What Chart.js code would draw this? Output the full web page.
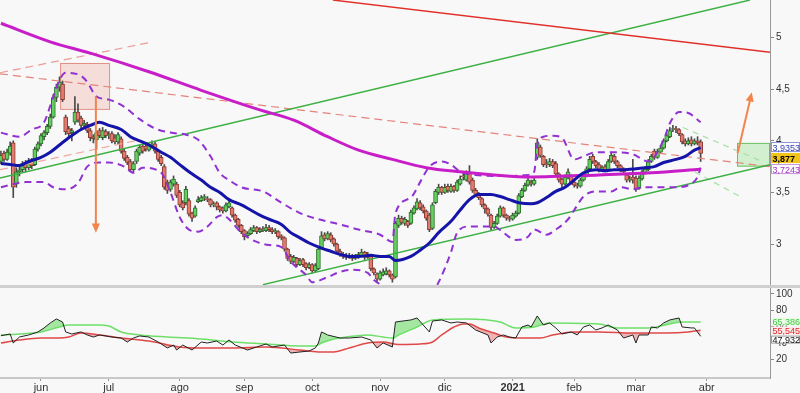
<!DOCTYPE html>
<html>
<head>
<meta charset="utf-8">
<script src="https://cdn.jsdelivr.net/npm/chart.js@4.4.0/dist/chart.umd.min.js"></script>
<style>
  html, body { margin: 0; padding: 0; background: #f8f8f8; }
  #wrap { position: relative; width: 800px; height: 393px; overflow: hidden; }
  #price { position: absolute; left: 0; top: 0; }
  #sep { position: absolute; left: 0; top: 285px; width: 800px; height: 3px; background: #cfcfcf; }
  #osc { position: absolute; left: 0; top: 288px; }
</style>
</head>
<body>
<div id="wrap">
  <canvas id="price" width="800" height="285"></canvas>
  <div id="sep"></div>
  <canvas id="osc" width="800" height="105"></canvas>
</div>
<script>
// trading day index of the first candle (0 = first session of june)
const firstDay = -13;

const opens = [
  3.80, 3.88, 3.82, 3.88, 3.98, 3.58, 3.70, 3.72, 3.79, 3.74,
  3.81, 3.77, 3.92, 3.97, 4.04, 4.08, 4.14, 4.23, 4.42, 4.52,
  4.55, 4.23, 4.12, 4.08, 4.18, 4.28, 4.22, 4.15, 4.16, 4.10,
  4.04, 4.01, 4.10, 4.03, 4.09, 4.05, 4.07, 4.03, 3.99, 4.02,
  3.90, 3.84, 3.80, 3.72, 3.80, 3.88, 3.95, 3.95, 3.91, 3.95,
  3.97, 3.90, 3.84, 3.75, 3.60, 3.53, 3.58, 3.58, 3.50, 3.40,
  3.40, 3.42, 3.30, 3.27, 3.41, 3.42, 3.45, 3.44, 3.43, 3.38,
  3.40, 3.36, 3.35, 3.32, 3.36, 3.35, 3.28, 3.24, 3.18, 3.13,
  3.08, 3.10, 3.13, 3.16, 3.12, 3.15, 3.13, 3.16, 3.14, 3.12,
  3.12, 3.08, 3.06, 2.95, 2.88, 2.83, 2.86, 2.80, 2.85, 2.81,
  2.77, 2.80, 2.74, 2.76, 2.96, 3.09, 3.05, 3.09, 3.05, 3.00,
  2.93, 2.90, 2.89, 2.87, 2.89, 2.86, 2.88, 2.89, 2.92, 2.87,
  2.88, 2.76, 2.71, 2.66, 2.70, 2.71, 2.74, 2.70, 2.68, 3.18,
  3.25, 3.20, 3.22, 3.20, 3.30, 3.34, 3.40, 3.36, 3.32, 3.28,
  3.15, 3.40, 3.50, 3.55, 3.50, 3.56, 3.51, 3.56, 3.52, 3.58,
  3.66, 3.62, 3.69, 3.62, 3.52, 3.48, 3.44, 3.38, 3.34, 3.28,
  3.16, 3.20, 3.27, 3.35, 3.28, 3.25, 3.24, 3.27, 3.30, 3.46,
  3.52, 3.57, 3.60, 3.58, 3.84, 3.94, 3.85, 3.78, 3.77, 3.80,
  3.78, 3.68, 3.63, 3.58, 3.64, 3.66, 3.60, 3.57, 3.56, 3.62,
  3.66, 3.73, 3.85, 3.80, 3.77, 3.72, 3.75, 3.72, 3.80, 3.85,
  3.80, 3.76, 3.72, 3.67, 3.62, 3.65, 3.64, 3.54, 3.63, 3.69,
  3.72, 3.80, 3.90, 3.84, 3.89, 3.93, 4.00, 4.04, 4.11, 4.12,
  4.11, 4.06, 4.00, 3.97, 4.01, 3.97, 4.00, 3.99
];
const highs = [
  3.90, 3.90, 3.92, 3.99, 4.00, 3.74, 3.76, 3.80, 3.81, 3.83,
  3.83, 3.94, 3.99, 4.07, 4.10, 4.16, 4.26, 4.45, 4.55, 4.62,
  4.58, 4.25, 4.14, 4.12, 4.43, 4.36, 4.24, 4.20, 4.18, 4.12,
  4.06, 4.10, 4.12, 4.13, 4.11, 4.09, 4.09, 4.06, 4.08, 4.04,
  3.92, 3.86, 3.82, 3.80, 3.92, 3.96, 3.97, 3.97, 3.98, 4.00,
  3.99, 3.91, 3.86, 3.77, 3.62, 3.62, 3.66, 3.60, 3.52, 3.42,
  3.56, 3.44, 3.31, 3.37, 3.46, 3.47, 3.48, 3.46, 3.44, 3.41,
  3.41, 3.37, 3.36, 3.40, 3.44, 3.36, 3.29, 3.25, 3.19, 3.14,
  3.12, 3.16, 3.18, 3.17, 3.16, 3.17, 3.19, 3.18, 3.16, 3.15,
  3.13, 3.09, 3.07, 2.96, 2.90, 2.89, 2.87, 2.86, 2.86, 2.82,
  2.82, 2.81, 2.81, 2.97, 3.12, 3.11, 3.12, 3.11, 3.06, 3.01,
  2.95, 2.92, 2.91, 2.91, 2.90, 2.90, 2.92, 2.95, 2.93, 2.92,
  2.90, 2.77, 2.72, 2.74, 2.76, 2.77, 2.75, 2.71, 3.22, 3.28,
  3.27, 3.26, 3.23, 3.33, 3.37, 3.44, 3.42, 3.38, 3.33, 3.30,
  3.40, 3.53, 3.58, 3.56, 3.58, 3.58, 3.58, 3.57, 3.62, 3.66,
  3.68, 3.71, 3.76, 3.64, 3.54, 3.50, 3.45, 3.39, 3.35, 3.29,
  3.22, 3.29, 3.37, 3.36, 3.29, 3.27, 3.30, 3.32, 3.49, 3.54,
  3.59, 3.64, 3.62, 3.64, 4.02, 3.96, 3.86, 3.82, 3.83, 3.82,
  3.80, 3.69, 3.64, 3.67, 3.73, 3.67, 3.61, 3.59, 3.64, 3.68,
  3.75, 3.85, 3.87, 3.81, 3.79, 3.76, 3.77, 3.82, 3.89, 3.87,
  3.81, 3.77, 3.74, 3.68, 3.66, 3.82, 3.66, 3.66, 3.72, 3.75,
  3.82, 3.87, 3.92, 3.92, 3.95, 4.02, 4.07, 4.13, 4.15, 4.14,
  4.12, 4.07, 4.02, 4.03, 4.04, 4.02, 4.04, 4.01
];
const lows = [
  3.78, 3.80, 3.81, 3.86, 3.45, 3.55, 3.66, 3.70, 3.70, 3.72,
  3.73, 3.76, 3.90, 3.95, 4.01, 4.06, 4.12, 4.22, 4.38, 4.48,
  4.38, 4.06, 4.04, 4.00, 4.16, 4.18, 4.12, 4.12, 4.08, 4.00,
  3.98, 3.92, 4.03, 4.01, 4.03, 4.02, 3.98, 3.97, 3.97, 3.88,
  3.81, 3.77, 3.70, 3.70, 3.78, 3.86, 3.88, 3.90, 3.90, 3.93,
  3.88, 3.80, 3.76, 3.53, 3.49, 3.51, 3.56, 3.45, 3.36, 3.33,
  3.38, 3.27, 3.22, 3.26, 3.40, 3.41, 3.42, 3.41, 3.36, 3.36,
  3.33, 3.31, 3.30, 3.31, 3.35, 3.26, 3.21, 3.16, 3.10, 3.04,
  3.06, 3.09, 3.12, 3.10, 3.11, 3.12, 3.12, 3.12, 3.10, 3.10,
  3.05, 3.04, 2.93, 2.84, 2.81, 2.82, 2.78, 2.79, 2.78, 2.75,
  2.76, 2.72, 2.73, 2.75, 2.95, 3.03, 3.04, 3.02, 2.98, 2.91,
  2.88, 2.86, 2.85, 2.86, 2.84, 2.85, 2.86, 2.88, 2.85, 2.86,
  2.74, 2.70, 2.63, 2.65, 2.69, 2.70, 2.68, 2.63, 2.67, 3.16,
  3.19, 3.18, 3.16, 3.19, 3.29, 3.33, 3.33, 3.30, 3.23, 3.12,
  3.14, 3.39, 3.48, 3.48, 3.49, 3.50, 3.50, 3.50, 3.51, 3.57,
  3.62, 3.61, 3.58, 3.50, 3.46, 3.43, 3.36, 3.30, 3.27, 3.14,
  3.15, 3.19, 3.26, 3.26, 3.23, 3.22, 3.23, 3.26, 3.29, 3.45,
  3.51, 3.56, 3.56, 3.57, 3.82, 3.84, 3.75, 3.74, 3.75, 3.74,
  3.66, 3.60, 3.55, 3.57, 3.63, 3.58, 3.55, 3.54, 3.55, 3.61,
  3.65, 3.72, 3.78, 3.74, 3.70, 3.71, 3.70, 3.71, 3.79, 3.78,
  3.74, 3.70, 3.68, 3.60, 3.60, 3.59, 3.51, 3.53, 3.62, 3.68,
  3.71, 3.79, 3.82, 3.83, 3.88, 3.92, 3.99, 4.03, 4.09, 4.08,
  4.05, 3.97, 3.95, 3.96, 3.95, 3.96, 3.96, 3.80
];
const closes = [
  3.86, 3.82, 3.89, 3.95, 3.55, 3.70, 3.72, 3.78, 3.74, 3.80,
  3.76, 3.92, 3.97, 4.05, 4.08, 4.14, 4.23, 4.42, 4.52, 4.57,
  4.40, 4.09, 4.07, 4.10, 4.28, 4.20, 4.15, 4.17, 4.10, 4.03,
  4.02, 4.08, 4.05, 4.10, 4.05, 4.06, 4.00, 3.99, 4.06, 3.90,
  3.83, 3.79, 3.72, 3.78, 3.90, 3.94, 3.90, 3.92, 3.96, 3.97,
  3.90, 3.82, 3.78, 3.55, 3.52, 3.60, 3.63, 3.47, 3.38, 3.35,
  3.53, 3.29, 3.25, 3.35, 3.43, 3.45, 3.45, 3.43, 3.38, 3.38,
  3.36, 3.33, 3.32, 3.38, 3.40, 3.28, 3.23, 3.18, 3.12, 3.07,
  3.10, 3.14, 3.16, 3.12, 3.14, 3.14, 3.16, 3.14, 3.12, 3.12,
  3.07, 3.06, 2.95, 2.86, 2.83, 2.87, 2.80, 2.84, 2.80, 2.77,
  2.80, 2.74, 2.79, 2.95, 3.08, 3.05, 3.10, 3.04, 3.00, 2.93,
  2.90, 2.88, 2.87, 2.89, 2.86, 2.88, 2.90, 2.92, 2.87, 2.90,
  2.76, 2.72, 2.66, 2.72, 2.73, 2.74, 2.70, 2.66, 3.20, 3.25,
  3.21, 3.24, 3.18, 3.31, 3.35, 3.41, 3.35, 3.32, 3.25, 3.14,
  3.38, 3.51, 3.55, 3.50, 3.55, 3.52, 3.56, 3.52, 3.60, 3.63,
  3.65, 3.68, 3.60, 3.52, 3.48, 3.45, 3.38, 3.34, 3.29, 3.16,
  3.20, 3.27, 3.35, 3.28, 3.25, 3.24, 3.28, 3.30, 3.47, 3.52,
  3.57, 3.62, 3.58, 3.62, 3.98, 3.86, 3.77, 3.77, 3.80, 3.76,
  3.68, 3.62, 3.58, 3.65, 3.70, 3.60, 3.57, 3.56, 3.62, 3.66,
  3.73, 3.82, 3.80, 3.76, 3.72, 3.74, 3.72, 3.80, 3.86, 3.80,
  3.76, 3.72, 3.70, 3.62, 3.63, 3.62, 3.53, 3.64, 3.70, 3.73,
  3.80, 3.85, 3.84, 3.90, 3.93, 4.00, 4.05, 4.10, 4.12, 4.11,
  4.07, 3.99, 3.97, 4.00, 3.97, 4.00, 3.98, 3.877
];

// 20-session average (blue)
const maDays = [-13, -10, -7, -4, 0, 3, 6, 9, 13, 16, 19, 22, 26, 29, 32, 35, 39, 42, 45, 48, 52, 55, 58, 61, 65, 68, 71, 74, 78, 81, 84, 87, 91, 94, 97, 100, 103, 107, 110, 113, 115, 120, 123, 126, 129, 133, 136, 139, 142, 146, 149, 152, 155, 159, 161, 164, 167, 170, 173, 176, 180, 183, 186, 189, 193, 196, 199, 202, 206, 209, 212, 214];
const maVals = [3.78, 3.77, 3.76, 3.80, 3.84, 3.89, 3.96, 4.03, 4.11, 4.15, 4.18, 4.15, 4.11, 4.04, 4.00, 3.96, 3.89, 3.84, 3.77, 3.70, 3.62, 3.55, 3.50, 3.43, 3.38, 3.33, 3.28, 3.24, 3.19, 3.11, 3.06, 3.01, 2.96, 2.93, 2.90, 2.88, 2.88, 2.89, 2.88, 2.88, 2.84, 2.88, 2.94, 3.01, 3.11, 3.22, 3.33, 3.43, 3.48, 3.48, 3.46, 3.43, 3.40, 3.39, 3.40, 3.45, 3.51, 3.55, 3.62, 3.69, 3.72, 3.71, 3.72, 3.72, 3.73, 3.74, 3.75, 3.79, 3.82, 3.85, 3.91, 3.9353];

// bands (dashed violet)
const upDays = [-13, -7, -3, 1, 4, 6, 8, 13, 15, 18, 22, 27, 32, 37, 42, 47, 51, 55, 58, 61, 65, 72, 78, 84, 90, 97, 103, 110, 114, 115, 120, 123, 126, 130, 133, 136, 141, 147, 152, 158, 160, 161, 163, 166, 169, 173, 176, 180, 186, 192, 197, 202, 204, 207, 210, 214];
const upVals = [4.08, 4.04, 4.11, 4.18, 4.43, 4.59, 4.66, 4.63, 4.57, 4.43, 4.40, 4.33, 4.21, 4.12, 4.08, 4.06, 4.01, 3.85, 3.69, 3.62, 3.55, 3.51, 3.40, 3.30, 3.24, 3.19, 3.14, 3.09, 3.02, 3.30, 3.45, 3.60, 3.75, 3.80, 3.77, 3.70, 3.67, 3.66, 3.66, 3.67, 3.70, 3.96, 4.04, 4.05, 4.03, 3.82, 3.85, 3.89, 3.89, 3.87, 3.80, 4.01, 4.17, 4.28, 4.27, 4.18];
const lowDays = [-13, -5, 1, 4, 8, 12, 15, 19, 22, 27, 30, 33, 39, 42, 45, 48, 51, 54, 57, 59, 61, 65, 70, 74, 78, 81, 86, 88, 93, 97, 101, 106, 108, 110, 115, 118, 124, 129, 133, 135, 139, 147, 150, 154, 158, 160, 164, 167, 171, 173, 176, 180, 185, 188, 192, 195, 201, 206, 210, 213, 214];
const lowVals = [3.55, 3.60, 3.60, 3.55, 3.53, 3.59, 3.75, 3.79, 3.79, 3.75, 3.69, 3.74, 3.69, 3.50, 3.26, 3.14, 3.12, 3.17, 3.26, 3.28, 3.24, 3.11, 3.02, 2.99, 2.97, 2.83, 2.70, 2.63, 2.68, 2.73, 2.75, 2.72, 2.65, 2.61, 2.50, 2.42, 2.40, 2.63, 2.92, 3.11, 3.17, 3.17, 3.11, 3.04, 3.07, 3.14, 3.09, 3.14, 3.24, 3.33, 3.46, 3.51, 3.51, 3.55, 3.53, 3.55, 3.55, 3.55, 3.57, 3.65, 3.74];

// long average (magenta)
const longDays = [-13, 3, 16, 35, 52, 71, 82, 93, 103, 114, 125, 136, 147, 159, 181, 198, 214];
const longVals = [5.14, 4.96, 4.85, 4.67, 4.49, 4.30, 4.20, 4.04, 3.91, 3.82, 3.74, 3.70, 3.67, 3.65, 3.67, 3.69, 3.7243];

// drawn trend lines: [day, price] end points
const redLine = [[94.7, 5.365], [236.5, 4.86]];
const greenTop = [[-13.3, 3.64], [230, 5.365]];
const greenLow = [[72, 2.606], [236.5, 3.768]];
const redDashDown = [[-13.3, 4.65], [236.5, 3.75]];
const redDashUp = [[-13.3, 4.66], [36.3, 4.96]];
const redDashLow = [[-13.3, 3.72], [32, 4.01]];
const greenDashA = [[208.2, 4.13], [233.2, 3.81]];
const greenDashB = [[212.1, 3.70], [227.4, 3.45]];
const pinkBox = [6.2, 22.4, 4.30, 4.755];
const greenBox = [225.8, 236.5, 3.75, 3.98];
const arrowDown = [[17.8, 4.43], [17.8, 3.11]];
const arrowUp = [[226, 3.88], [230.6, 4.47]];

const priceTicks = [3, 3.5, 4, 4.5, 5];
const priceTags = [3.9353, 3.877, 3.7243];
const priceTagText = ['3,9353', '3,877', '3,7243'];

// lower panel
const oscDays = [-13, -10, -9, -7, -4, -1, 1, 3, 5, 7, 8, 10, 13, 15, 17, 19, 21, 23, 26, 28, 30, 32, 35, 38, 41, 43, 44, 46, 49, 52, 54, 57, 59, 61, 63, 67, 70, 73, 75, 79, 81, 84, 87, 89, 90, 91, 93, 97, 100, 104, 107, 109, 111, 114, 115, 120, 122, 124, 126, 127, 130, 133, 135, 138, 141, 145, 146, 148, 150, 152, 154, 156, 158, 159, 161, 163, 165, 167, 169, 172, 174, 176, 178, 180, 182, 184, 187, 189, 190, 192, 193, 194, 197, 198, 200, 202, 204, 207, 208, 211, 212, 214];
const oscVals = [48.7, 50.8, 39.8, 47.1, 49.6, 53.3, 58.2, 64.3, 69.2, 65.5, 53.3, 50.8, 53.3, 49.6, 47.1, 49.6, 48.4, 47.1, 45.9, 41.0, 45.9, 48.4, 47.1, 41.0, 33.7, 37.3, 31.2, 37.3, 31.2, 41.0, 39.8, 42.2, 37.3, 43.5, 37.3, 31.2, 34.9, 38.6, 34.9, 37.3, 27.5, 28.8, 30.0, 33.7, 39.8, 53.3, 49.6, 45.9, 45.9, 47.1, 43.5, 33.7, 39.8, 34.9, 65.5, 68.0, 70.4, 61.8, 53.3, 66.7, 68.0, 64.3, 65.5, 64.3, 55.7, 49.6, 39.8, 47.1, 49.6, 47.1, 45.9, 59.4, 61.8, 59.4, 72.9, 61.8, 64.3, 58.2, 50.8, 53.3, 49.6, 59.4, 61.8, 55.7, 58.2, 61.8, 55.7, 45.9, 47.1, 49.6, 39.8, 49.6, 49.6, 59.4, 58.2, 64.3, 68.0, 70.4, 59.4, 58.2, 58.2, 47.932];
const sigDays = [-13, -7, 0, 6, 9, 19, 22, 26, 32, 41, 52, 62, 73, 84, 89, 91, 95, 99, 106, 111, 114, 116, 122, 127, 138, 149, 154, 160, 165, 181, 187, 197, 208, 214];
const sigVals = [49.6, 50.8, 53.3, 59.4, 61.8, 61.8, 60.6, 53.3, 49.6, 47.1, 44.7, 41.0, 38.6, 36.1, 36.1, 39.8, 44.7, 47.1, 49.6, 47.1, 45.9, 49.6, 59.4, 68.0, 69.2, 65.5, 58.2, 59.4, 64.3, 63.1, 58.2, 58.2, 65.5, 65.386];
const slowDays = [-13, -7, 0, 6, 9, 13, 19, 26, 35, 45, 52, 62, 73, 84, 90, 95, 100, 106, 111, 116, 123, 127, 130, 134, 137, 139, 142, 147, 151, 155, 162, 166, 173, 181, 192, 203, 210, 214];
const slowVals = [39.8, 43.5, 45.9, 45.9, 47.1, 52.0, 49.6, 45.9, 42.2, 34.9, 33.7, 33.7, 34.9, 31.2, 28.8, 28.8, 33.7, 39.8, 41.0, 38.0, 38.6, 41.0, 49.6, 59.4, 63.1, 63.1, 58.2, 52.0, 47.1, 45.9, 45.9, 49.6, 53.3, 53.3, 52.0, 52.0, 53.3, 55.545];
const oscTicks = [20, 40, 60, 80, 100];
const oscTags = [65.386, 55.545, 47.932];
const oscTagText = ['65,386', '55,545', '47,932'];

const monthDays = [0, 22, 45, 66, 88, 110, 131, 153, 173, 193, 216];
const monthLabels = ['jun', 'jul', 'ago', 'sep', 'oct', 'nov', 'dic', '2021', 'feb', 'mar', 'abr'];

const xMin = -13.3, xMax = 236.5;
const fontFamily = '"Liberation Sans", Arial, sans-serif';

const days = closes.map((c, k) => firstDay + k);
const upCandle = closes.map((c, k) => c >= opens[k]);

function pts(xs, ys) {
  return xs.map((v, k) => ({ x: v, y: ys[k] }));
}
function curve(xs, ys, color, width, dash) {
  return {
    type: 'line', data: pts(xs, ys), borderColor: color, borderWidth: width,
    borderDash: dash || [], pointRadius: 0, fill: false,
    cubicInterpolationMode: 'monotone', order: 1
  };
}
function segment(p, color, width, dash) {
  return {
    type: 'line', data: p.map(q => ({ x: q[0], y: q[1] })), borderColor: color,
    borderWidth: width, borderDash: dash || [], pointRadius: 0, tension: 0, fill: false, order: 2
  };
}
// no extra room around the axes: the plot runs edge to edge
function noPad(s) {
  s.paddingTop = 0; s.paddingBottom = 0; s.paddingLeft = 0; s.paddingRight = 0;
}

function drawTags(chart, values, texts, styles, gap) {
  const ctx = chart.ctx, ys = chart.scales.y, left = chart.chartArea.right + 1;
  const items = values.map((v, k) => ({ py: ys.getPixelForValue(v), text: texts[k], s: styles[k] }))
    .sort((a, b) => a.py - b.py);
  for (let k = 1; k < items.length; k++) {
    if (items[k].py - items[k - 1].py < gap) items[k].py = items[k - 1].py + gap;
  }
  ctx.save();
  ctx.textBaseline = 'middle';
  items.forEach(t => {
    ctx.fillStyle = t.s.bg;
    ctx.fillRect(left, t.py - gap / 2, 800 - left, gap - 1);
    if (t.s.border) {
      ctx.strokeStyle = t.s.border;
      ctx.lineWidth = 1;
      ctx.strokeRect(left + 0.5, t.py - gap / 2 + 0.5, 800 - left - 1, gap - 2);
    }
    ctx.fillStyle = t.s.fg;
    ctx.font = (t.s.bold ? 'bold ' : '') + '9px ' + fontFamily;
    ctx.fillText(t.text, left + 1.5, t.py + 0.5);
  });
  ctx.restore();
}

const decor = {
  id: 'decor',
  beforeDatasetsDraw(chart) {
    const { ctx, chartArea: a, scales: { x, y } } = chart;
    ctx.save();
    ctx.beginPath();
    ctx.rect(a.left, a.top, a.right - a.left, a.bottom - a.top);
    ctx.clip();
    [[pinkBox, 'rgba(238,165,155,0.32)', 'rgba(222,125,112,0.8)'],
     [greenBox, 'rgba(165,228,160,0.45)', 'rgba(95,190,85,0.9)']].forEach(([b, fill, line]) => {
      const x0 = x.getPixelForValue(b[0]), x1 = x.getPixelForValue(b[1]);
      const y0 = y.getPixelForValue(b[3]), y1 = y.getPixelForValue(b[2]);
      ctx.fillStyle = fill;
      ctx.fillRect(x0, y0, x1 - x0, y1 - y0);
      ctx.strokeStyle = line;
      ctx.lineWidth = 1;
      ctx.strokeRect(x0 + 0.5, y0 + 0.5, x1 - x0 - 1, y1 - y0 - 1);
    });
    ctx.restore();
  },
  afterDatasetsDraw(chart) {
    const { ctx, scales: { x, y } } = chart;
    [arrowDown, arrowUp].forEach(ar => {
      const x0 = x.getPixelForValue(ar[0][0]), y0 = y.getPixelForValue(ar[0][1]);
      const x1 = x.getPixelForValue(ar[1][0]), y1 = y.getPixelForValue(ar[1][1]);
      const ang = Math.atan2(y1 - y0, x1 - x0), h = 10;
      ctx.save();
      ctx.strokeStyle = '#f2854c';
      ctx.fillStyle = '#f2854c';
      ctx.lineWidth = 2;
      ctx.beginPath();
      ctx.moveTo(x0, y0);
      ctx.lineTo(x1 - Math.cos(ang) * h * 0.8, y1 - Math.sin(ang) * h * 0.8);
      ctx.stroke();
      ctx.beginPath();
      ctx.moveTo(x1, y1);
      ctx.lineTo(x1 - h * Math.cos(ang - 0.42), y1 - h * Math.sin(ang - 0.42));
      ctx.lineTo(x1 - h * Math.cos(ang + 0.42), y1 - h * Math.sin(ang + 0.42));
      ctx.closePath();
      ctx.fill();
      ctx.restore();
    });
  },
  afterDraw(chart) {
    drawTags(chart, priceTags, priceTagText, [
      { fg: '#2f3db0', bg: '#ffffff', border: '#8c95d6' },
      { fg: '#000000', bg: '#f2c418', bold: true },
      { fg: '#a232c4', bg: '#ffffff', border: '#c896dc' }
    ], 11);
  }
};

new Chart(document.getElementById('price'), {
  type: 'bar',
  data: {
    datasets: [
      curve(maDays, maVals, '#1414a8', 3),
      curve(longDays, longVals, '#c81ec8', 3),
      curve(upDays, upVals, '#9032d2', 2, [7, 5]),
      curve(lowDays, lowVals, '#9032d2', 2, [7, 5]),
      segment(redLine, '#e0302a', 1.5),
      segment(greenTop, '#3cb043', 1.5),
      segment(greenLow, '#3cb043', 1.5),
      segment(redDashDown, '#e4837a', 1.2, [8, 5]),
      segment(redDashUp, '#eb9c94', 1.2, [8, 5]),
      segment(redDashLow, '#eea8a0', 1.2, [8, 5]),
      segment(greenDashA, '#a6dea2', 1.2, [6, 5]),
      segment(greenDashB, '#a6dea2', 1.2, [6, 5]),
      {
        type: 'bar',
        data: days.map((d, k) => ({ x: d, y: [Math.min(opens[k], closes[k]), Math.max(opens[k], closes[k])] })),
        backgroundColor: upCandle.map(u => u ? '#62cf5f' : '#e27b6f'),
        borderColor: upCandle.map(u => u ? '#2d6e2b' : '#8e3a32'),
        borderWidth: 1, borderSkipped: false, barThickness: 4, minBarLength: 1,
        grouped: false, order: 4
      },
      {
        type: 'bar',
        data: days.map((d, k) => ({ x: d, y: [lows[k], highs[k]] })),
        backgroundColor: '#4a4a4a', barThickness: 1, grouped: false, order: 5
      }
    ]
  },
  options: {
    responsive: false,
    animation: false,
    layout: { padding: 0 },
    plugins: { legend: { display: false }, tooltip: { enabled: false } },
    scales: {
      x: { type: 'linear', min: xMin, max: xMax, display: false, offset: false },
      y: {
        position: 'right', min: 2.6026, max: 5.3655, beginAtZero: false,
        afterFit: s => { s.width = 30; noPad(s); },
        afterBuildTicks: s => { s.ticks = priceTicks.map(v => ({ value: v })); },
        ticks: {
          callback: v => String(v).replace('.', ','),
          color: '#333', font: { size: 10, family: fontFamily }, padding: 2
        },
        grid: { drawOnChartArea: false, drawTicks: true, tickLength: 4, color: '#888' },
        border: { display: true, color: '#9a9a9a' }
      }
    }
  },
  plugins: [decor]
});

const oscDecor = {
  id: 'oscDecor',
  afterDraw(chart) {
    drawTags(chart, oscTags, oscTagText, [
      { fg: '#3ccc3c', bg: '#e9fae8' },
      { fg: '#e02828', bg: '#fde9e9' },
      { fg: '#111111', bg: '#ffffff', border: '#999999' }
    ], 9);
  }
};

new Chart(document.getElementById('osc'), {
  type: 'line',
  data: {
    datasets: [
      {
        data: pts(oscDays, oscVals), borderColor: '#222', borderWidth: 1, pointRadius: 0, tension: 0,
        fill: { target: 1, above: 'rgba(110,220,105,0.6)', below: 'rgba(0,0,0,0)' }
      },
      {
        data: pts(sigDays, sigVals), borderColor: '#6ee06a', borderWidth: 1.5, pointRadius: 0,
        cubicInterpolationMode: 'monotone', fill: false
      },
      {
        data: pts(slowDays, slowVals), borderColor: '#e04848', borderWidth: 1.5, pointRadius: 0,
        cubicInterpolationMode: 'monotone', fill: false
      },
      {
        data: pts(oscDays, oscVals), borderColor: 'rgba(0,0,0,0)', borderWidth: 0, pointRadius: 0, tension: 0,
        fill: { target: 2, above: 'rgba(0,0,0,0)', below: 'rgba(232,110,110,0.5)' }
      }
    ]
  },
  options: {
    responsive: false,
    animation: false,
    layout: { padding: 0 },
    plugins: { legend: { display: false }, tooltip: { enabled: false } },
    scales: {
      x: {
        type: 'linear', min: xMin, max: xMax,
        afterFit: s => { s.height = 15; noPad(s); },
        afterBuildTicks: s => { s.ticks = monthDays.map(v => ({ value: v })); },
        ticks: {
          autoSkip: false, maxRotation: 0, padding: 0, color: '#333',
          callback: v => monthLabels[monthDays.indexOf(v)] || '',
          font: c => ({ size: 11, family: fontFamily, weight: c.index === 7 ? 'bold' : 'normal' })
        },
        grid: { drawOnChartArea: false, drawTicks: true, tickLength: 3, color: '#999' },
        border: { display: true, color: '#c8c8c8', width: 2 }
      },
      y: {
        position: 'right', min: -3.06, max: 107.1,
        afterFit: s => { s.width = 30; noPad(s); },
        afterBuildTicks: s => { s.ticks = oscTicks.map(v => ({ value: v })); },
        ticks: { color: '#333', font: { size: 10, family: fontFamily }, padding: 2 },
        grid: { drawOnChartArea: false, drawTicks: true, tickLength: 4, color: '#888' },
        border: { display: true, color: '#9a9a9a' }
      }
    }
  },
  plugins: [oscDecor]
});
</script>
</body>
</html>
